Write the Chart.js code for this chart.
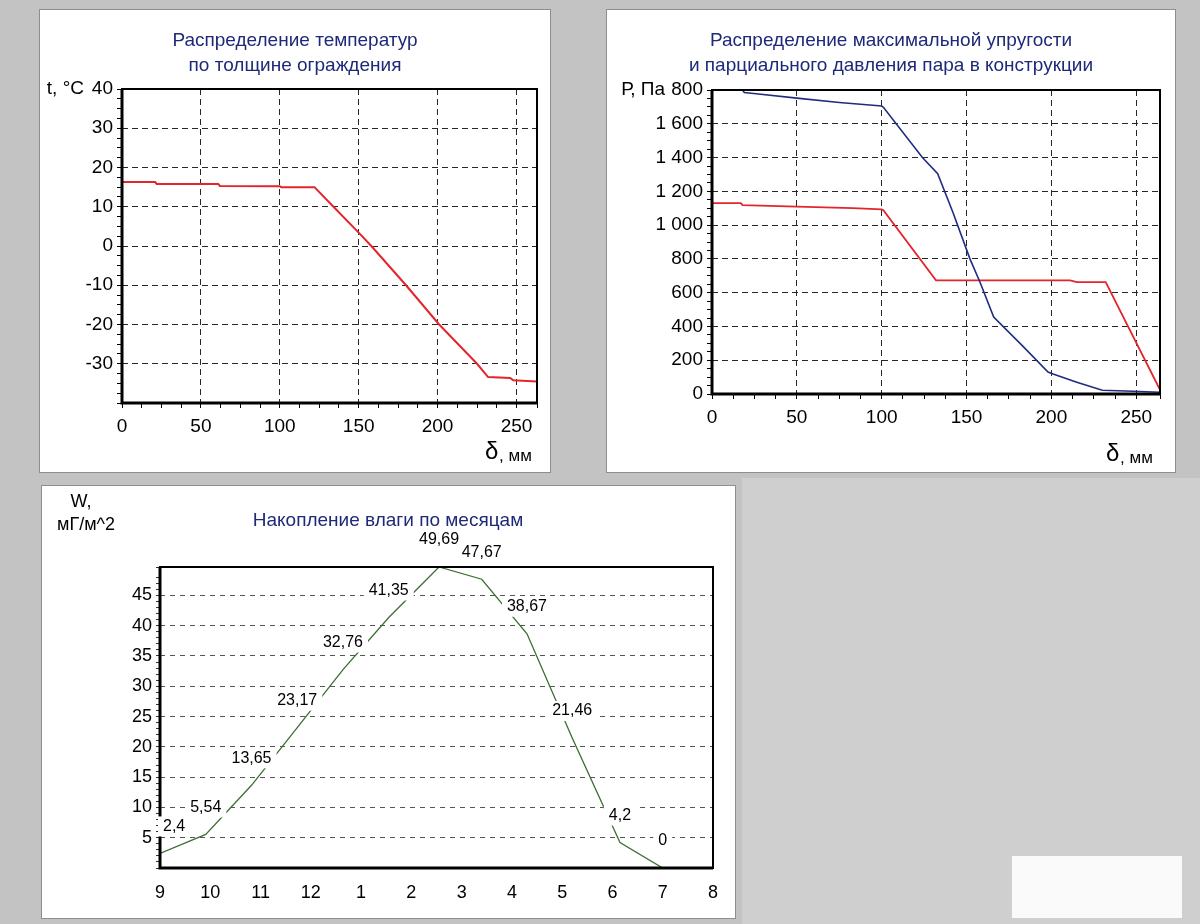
<!DOCTYPE html>
<html>
<head>
<meta charset="utf-8">
<script src="https://cdn.jsdelivr.net/npm/chart.js@4.4.0/dist/chart.umd.min.js"></script>
<style>
  body { margin:0; width:1200px; height:924px; background:#c3c3c3; position:relative; overflow:hidden; }
  .panel { position:absolute; background:#fff; border:1px solid #8e8e8e; }
  .panel canvas { display:block; }
  .page { position:absolute; left:742px; top:478px; width:458px; height:446px; background:#cfcfcf; }
  .blank { position:absolute; left:1012px; top:856px; width:170px; height:62px; background:#fafafa; }
</style>
</head>
<body>
<div class="page"></div>
<div class="blank"></div>
<div class="panel" style="left:39px;top:9px"><canvas id="c1" width="510" height="462"></canvas></div>
<div class="panel" style="left:606px;top:9px"><canvas id="c2" width="568" height="462"></canvas></div>
<div class="panel" style="left:41px;top:485px"><canvas id="c3" width="693" height="432"></canvas></div>
<script>
/* temperature across the wall, t °C vs δ mm */
const TEMP_X = [0, 21, 22, 61, 62, 100, 101, 122, 134, 150, 158, 180, 201, 225, 232, 246, 248, 263];
const TEMP_T = [16.3, 16.3, 15.8, 15.8, 15.3, 15.2, 15.0, 15.0, 10, 3.4, 0, -10, -20, -30, -33.4, -33.6, -34.2, -34.5];

/* max elasticity E (blue) and partial pressure e (red), Pa vs δ mm */
const E_X = [0, 18, 19, 26, 50, 75, 100, 101, 124, 133, 142, 152, 158, 166, 183, 198, 201, 215, 230, 248, 264];
const E_P = [1800, 1800, 1785, 1778, 1752, 1726, 1705, 1698, 1400, 1305, 1075, 800, 660, 455, 285, 130, 118, 70, 22, 16, 10];
const PE_X = [0, 17, 18, 50, 83, 100, 101, 132, 211, 215, 232, 264];
const PE_P = [1130, 1130, 1118, 1110, 1100, 1093, 1088, 673, 673, 663, 663, 25];

/* moisture accumulation by month */
const MONTHS = ['9','10','11','12','1','2','3','4','5','6','7','8'];
const W_POS = [0, 0.91, 1.82, 2.73, 3.64, 4.55, 5.55, 6.4, 7.3, 8.2, 9.15, 10];
const W_VAL = [2.4, 5.54, 13.65, 23.17, 32.76, 41.35, 49.69, 47.67, 38.67, 21.46, 4.2, 0];

const NAVY = '#1e2a78';
const RED = '#e2262c';
const BLUE = '#1f2c80';
const GREEN = '#3d6e34';
const FONT = '"Liberation Sans", Arial, sans-serif';
Chart.defaults.font.family = FONT;
Chart.defaults.color = '#000';

const pts = (xs, ys) => xs.map((x, i) => ({ x, y: ys[i] }));
const fmtPa = v => v >= 1000 ? Math.floor(v / 1000) + ' ' + String(v % 1000).padStart(3, '0') : String(v);

/* plot frame: heavy left/bottom, thinner top/right */
const framePlugin = {
  id: 'frame',
  afterDatasetsDraw(chart) {
    const { ctx, chartArea: a } = chart;
    ctx.save();
    ctx.strokeStyle = '#000';
    ctx.lineWidth = 2;
    ctx.strokeRect(a.left, a.top, a.width, a.height);
    ctx.lineWidth = 3;
    ctx.beginPath();
    ctx.moveTo(a.left, a.top); ctx.lineTo(a.left, a.bottom); ctx.lineTo(a.right, a.bottom);
    ctx.stroke();
    ctx.restore();
  }
};

/* titles and unit labels */
const textPlugin = {
  id: 'panelText',
  afterDraw(chart, args, opts) {
    const ctx = chart.ctx;
    (opts.items || []).forEach(it => {
      ctx.save();
      ctx.font = it.font;
      ctx.textAlign = it.align || 'center';
      ctx.textBaseline = it.base || 'middle';
      if (it.bg) {
        const w = ctx.measureText(it.text).width;
        const x0 = it.align === 'right' ? it.x - w : it.x - w / 2;
        ctx.fillStyle = '#fff';
        ctx.fillRect(x0 - 2, it.y - 11, w + 6, 22);
      }
      ctx.fillStyle = it.color || '#000';
      ctx.fillText(it.text, it.x, it.y);
      ctx.restore();
    });
  }
};

/* value labels on the moisture line, white box behind */
const valueLabels = {
  id: 'valueLabels',
  afterDatasetsDraw(chart) {
    const { ctx, chartArea: a } = chart;
    const meta = chart.getDatasetMeta(0);
    ctx.save();
    ctx.font = '16px ' + FONT;
    ctx.textAlign = 'center';
    ctx.textBaseline = 'middle';
    meta.data.forEach((p, i) => {
      const txt = String(W_VAL[i]).replace('.', ',');
      const w = ctx.measureText(txt).width;
      let cx = Math.max(p.x, a.left + 3 + w / 2);
      const cy = p.y - 27;
      ctx.fillStyle = '#fff';
      ctx.fillRect(cx - w / 2 - 5, cy - 10, w + 10, 20);
      ctx.fillStyle = '#000';
      ctx.fillText(txt, cx, cy);
    });
    ctx.restore();
  }
};

const noUi = { legend: { display: false }, tooltip: { enabled: false } };
const gridOn = (test, color) => c => (c.tick && test(c.tick.value)) ? color : 'rgba(0,0,0,0)';

/* chart 1 */
new Chart(document.getElementById('c1'), {
  type: 'line',
  data: { datasets: [{ data: pts(TEMP_X, TEMP_T), borderColor: RED, borderWidth: 2, pointRadius: 0, tension: 0 }] },
  options: {
    responsive: false, animation: false, events: [],
    layout: { padding: { top: 79, right: 13, left: 0, bottom: 0 } },
    plugins: { ...noUi, panelText: { items: [
      { text: 'Распределение температур', x: 255, y: 31, font: '19px ' + FONT, color: NAVY },
      { text: 'по толщине ограждения', x: 255, y: 56, font: '19px ' + FONT, color: NAVY },
      { text: 't, °C', x: 44, y: 79, font: '19px ' + FONT, align: 'right' },
      { text: 'δ', x: 445, y: 449, font: '24px ' + FONT, align: 'left', base: 'alphabetic' },
      { text: ', мм', x: 459, y: 451, font: '17px ' + FONT, align: 'left', base: 'alphabetic' }
    ] } },
    scales: {
      x: { type: 'linear', min: 0, max: 263, afterFit: s => { s.height = 69; },
        ticks: { stepSize: 12.5, autoSkip: false, maxRotation: 0, padding: 7, font: { size: 19 }, callback: v => v % 50 === 0 ? v : '' },
        grid: { color: gridOn(v => v % 50 === 0, '#262626'), tickColor: '#000', tickLength: 5 },
        border: { display: false, dash: [6, 4] } },
      y: { min: -40, max: 40, afterFit: s => { s.width = 82; },
        ticks: { stepSize: 2.5, autoSkip: false, padding: 4, font: { size: 19 }, callback: v => (v % 10 === 0 && v > -40) ? v : '' },
        grid: { color: gridOn(v => v % 10 === 0, '#262626'), tickColor: '#000', tickLength: 5 },
        border: { display: false, dash: [6, 4] } }
    }
  },
  plugins: [framePlugin, textPlugin]
});

/* chart 2 */
new Chart(document.getElementById('c2'), {
  type: 'line',
  data: { datasets: [
    { data: pts(E_X, E_P), borderColor: BLUE, borderWidth: 1.6, pointRadius: 0, tension: 0 },
    { data: pts(PE_X, PE_P), borderColor: RED, borderWidth: 1.8, pointRadius: 0, tension: 0 }
  ] },
  options: {
    responsive: false, animation: false, events: [],
    layout: { padding: { top: 80, right: 15, left: 0, bottom: 0 } },
    plugins: { ...noUi, panelText: { items: [
      { text: 'Распределение максимальной упругости', x: 284, y: 31, font: '19px ' + FONT, color: NAVY },
      { text: 'и парциального давления пара в конструкции', x: 284, y: 56, font: '19px ' + FONT, color: NAVY },
      { text: 'Р, Па', x: 58, y: 80, font: '19px ' + FONT, align: 'right', bg: true },
      { text: 'δ', x: 499, y: 451, font: '24px ' + FONT, align: 'left', base: 'alphabetic' },
      { text: ', мм', x: 513, y: 453, font: '17px ' + FONT, align: 'left', base: 'alphabetic' }
    ] } },
    scales: {
      x: { type: 'linear', min: 0, max: 264, afterFit: s => { s.height = 78; },
        ticks: { stepSize: 12.5, autoSkip: false, maxRotation: 0, padding: 7, font: { size: 19 }, callback: v => v % 50 === 0 ? v : '' },
        grid: { color: gridOn(v => v % 50 === 0, '#262626'), tickColor: '#000', tickLength: 5 },
        border: { display: false, dash: [6, 4] } },
      y: { min: 0, max: 1800, afterFit: s => { s.width = 105; },
        ticks: { stepSize: 50, autoSkip: false, padding: 4, font: { size: 19 }, callback: v => v % 200 === 0 ? fmtPa(v) : '' },
        grid: { color: gridOn(v => v % 200 === 0, '#262626'), tickColor: '#000', tickLength: 5 },
        border: { display: false, dash: [6, 4] } }
    }
  },
  plugins: [framePlugin, textPlugin]
});

/* chart 3 */
new Chart(document.getElementById('c3'), {
  type: 'line',
  data: { datasets: [{ data: pts(W_POS, W_VAL), borderColor: GREEN, borderWidth: 1.3, pointRadius: 0, tension: 0 }] },
  options: {
    responsive: false, animation: false, events: [],
    layout: { padding: { top: 81, right: 22, left: 0, bottom: 0 } },
    plugins: { ...noUi, panelText: { items: [
      { text: 'Накопление влаги по месяцам', x: 346, y: 35, font: '19px ' + FONT, color: NAVY },
      { text: 'W,', x: 39, y: 16, font: '18px ' + FONT },
      { text: 'мГ/м^2', x: 44, y: 39, font: '18px ' + FONT }
    ] } },
    scales: {
      x: { type: 'linear', min: 0, max: 11, afterFit: s => { s.height = 50; },
        ticks: { stepSize: 1, autoSkip: false, maxRotation: 0, padding: 6, font: { size: 18 }, callback: v => MONTHS[v] },
        grid: { display: false } },
      y: { min: 0, max: 49.69, afterFit: s => { s.width = 118; },
        ticks: { stepSize: 1, autoSkip: false, padding: 4, font: { size: 18 }, callback: v => (Number.isInteger(v) && v % 5 === 0 && v > 0) ? v : '' },
        grid: { color: gridOn(v => Number.isInteger(v) && v % 5 === 0 && v > 0, '#555'), tickColor: '#333', tickLength: 4 },
        border: { display: false, dash: [5, 5] } }
    }
  },
  plugins: [framePlugin, valueLabels, textPlugin]
});
</script>
</body>
</html>
